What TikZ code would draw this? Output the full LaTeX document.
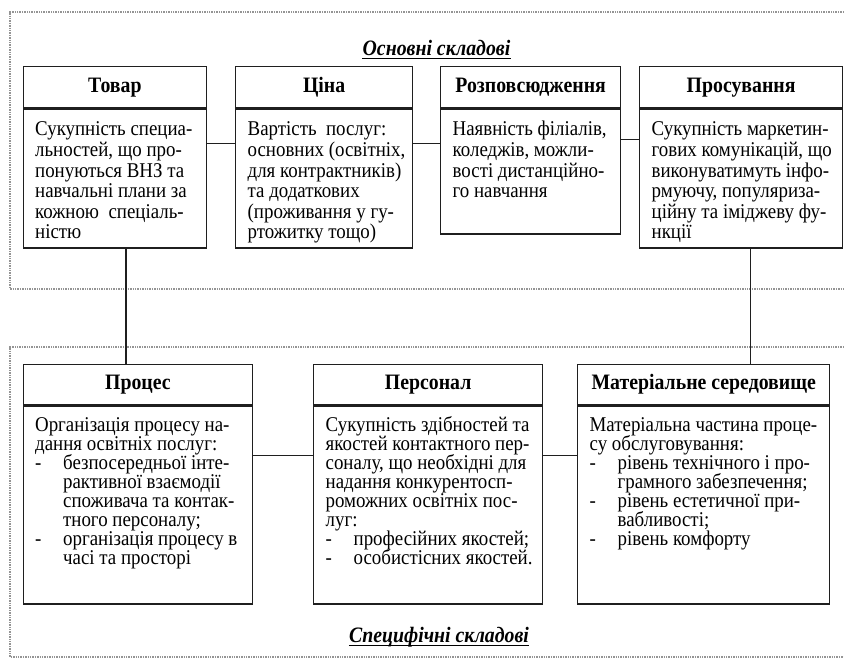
\documentclass[tikz,border=0pt]{standalone}
\usepackage{fontspec}
\usepackage{array}
\setmainfont{Liberation Serif}[FakeStretch=0.9]
\usetikzlibrary{calc}
\definecolor{LineClr}{rgb}{0.12,0.12,0.12}
\definecolor{FrameClr}{rgb}{0.58,0.58,0.58}
\newsavebox{\rowbox}
\newcolumntype{L}{>{\begin{lrbox}{\rowbox}}l<{\end{lrbox}\smash{\usebox{\rowbox}}}}
\newcommand{\dsh}{\makebox[28pt][l]{-}}
\newcommand{\cnt}{\hspace*{28pt}}
\newcommand{\celltext}[3]{\parbox[t][#2][t]{#1}{\begin{tabular}[t]{@{}L@{}}#3\end{tabular}}}

\begin{document}
\begin{tikzpicture}[x=1pt,y=-1pt,
  hdr/.style={draw=LineClr,line width=1.3pt,anchor=north west,inner sep=0pt,
    minimum height=41pt,text height=15pt,text depth=4.5pt,
    font=\fontsize{22}{24}\selectfont\bfseries},
  bdy/.style={draw=LineClr,line width=1.3pt,anchor=north west,
    inner xsep=12pt,inner ysep=12.5pt},
  txtup/.style={font=\fontsize{21}{20.6}\selectfont},
  txtdn/.style={font=\fontsize{21}{19}\selectfont},
  link/.style={draw=LineClr,line width=1.1pt},
  dotframe/.style={draw=FrameClr,line width=1.4pt,densely dotted},
  ttl/.style={inner sep=0pt,font=\fontsize{22}{24}\selectfont\bfseries\itshape}]
\useasboundingbox (0,0) rectangle (844,659);

% dotted frames
\draw[dotframe] (844,12) -- (10,12) -- (10,289) -- (844,289);
\draw[dotframe] (844,347) -- (10,347) -- (10,657) -- (844,657);

\node[ttl] (ttlTop) at (436.5,48) {Основні складові};
\draw[line width=1.5pt] ($(ttlTop.base west)+(0,3)$) -- ($(ttlTop.base east)+(0,3)$);
\node[ttl] (ttlBot) at (439,637) {Специфічні складові};
\draw[line width=1.5pt] ($(ttlBot.base west)+(0,3)$) -- ($(ttlBot.base east)+(0,3)$);

% main components
\node[hdr,minimum width=183.5pt] (tovH) at (22.5,66) {Товар};
\node[bdy,txtup] (tovB) at (tovH.south west) {\celltext{159.5pt}{114pt}{%
  Сукупність специа-\\ льностей, що про-\\ понуються ВНЗ та\\
  навчальні плани за\\ кожною\ \ спеціаль-\\ ністю}};

\node[hdr,minimum width=177pt] (tsinH) at (235,66) {Ціна};
\node[bdy,txtup] (tsinB) at (tsinH.south west) {\celltext{153pt}{114pt}{%
  Вартість\ \ послуг:\\ основних (освітніх,\\ для контрактників)\\
  та додаткових\\ (проживання у гу-\\ ртожитку тощо)}};

\node[hdr,minimum width=180pt] (rozH) at (440,66) {Розповсюдження};
\node[bdy,txtup] (rozB) at (rozH.south west) {\celltext{156pt}{100pt}{%
  Наявність філіалів,\\ коледжів, можли-\\ вості дистанційно-\\ го навчання}};

\node[hdr,minimum width=203pt] (prosH) at (639,66) {Просування};
\node[bdy,txtup] (prosB) at (prosH.south west) {\celltext{179pt}{114pt}{%
  Сукупність маркетин-\\ гових комунікацій, що\\ виконуватимуть інфо-\\
  рмуючу, популяриза-\\ ційну та іміджеву фу-\\ нкції}};

% specific components
\node[hdr,minimum width=229.5pt,minimum height=40pt] (procH) at (22.5,364) {Процес};
\node[bdy,txtdn] (procB) at (procH.south west) {\celltext{205.5pt}{173pt}{%
  Організація процесу на-\\ дання освітніх послуг:\\
  \dsh безпосередньої інте-\\ \cnt рактивної взаємодії\\
  \cnt споживача та контак-\\ \cnt тного персоналу;\\
  \dsh організація процесу в\\ \cnt часі та просторі}};

\node[hdr,minimum width=229pt,minimum height=40pt] (persH) at (313,364) {Персонал};
\node[bdy,txtdn] (persB) at (persH.south west) {\celltext{205pt}{173pt}{%
  Сукупність здібностей та\\ якостей контактного пер-\\
  соналу, що необхідні для\\ надання конкурентосп-\\
  роможних освітніх пос-\\ луг:\\
  \dsh професійних якостей;\\ \dsh особистісних якостей.}};

\node[hdr,minimum width=252pt,minimum height=40pt] (matH) at (577,364) {Матеріальне середовище};
\node[bdy,txtdn] (matB) at (matH.south west) {\celltext{228pt}{173pt}{%
  Матеріальна частина проце-\\ су обслуговування:\\
  \dsh рівень технічного і про-\\ \cnt грамного забезпечення;\\
  \dsh рівень естетичної при-\\ \cnt вабливості;\\
  \dsh рівень комфорту}};

% links
\draw[link] ($(tovB.north east)!.25!(tovB.south east)$) coordinate (h1) -- (h1 -| tsinB.west);
\draw[link] ($(tsinB.north east)!.25!(tsinB.south east)$) coordinate (h2) -- (h2 -| rozB.west);
\draw[link] ($(rozB.north east)!.25!(rozB.south east)$) coordinate (h3) -- (h3 -| prosB.west);
\draw[link] ($(procB.north east)!.25!(procB.south east)$) coordinate (h4) -- (h4 -| persB.west);
\draw[link] ($(persB.north east)!.25!(persB.south east)$) coordinate (h5) -- (h5 -| matB.west);

\draw[link] ($(tovB.south west)!.56!(tovB.south east)$) coordinate (v1) -- (v1 |- procH.north);
\draw[link] ($(prosB.south west)!.547!(prosB.south east)$) coordinate (v2) -- (v2 |- matH.north);

\end{tikzpicture}
\end{document}
